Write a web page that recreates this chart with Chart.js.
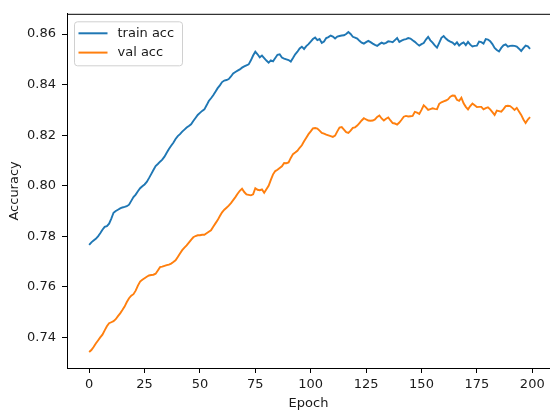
<!DOCTYPE html>
<html>
<head>
<meta charset="utf-8">
<script src="https://cdn.jsdelivr.net/npm/chart.js"></script>
<style>
  html, body { margin: 0; padding: 0; background: #fff; }
  canvas { display: block; }
</style>
</head>
<body>
<canvas id="acc_chart" width="550" height="414"></canvas>
<script>
// accuracy per epoch
const trainAcc = [
  0.7766, 0.7776, 0.7783, 0.7790, 0.7800, 0.7812, 0.7826, 0.7837, 0.7840, 0.7850,
  0.7870, 0.7893, 0.7900, 0.7905, 0.7910, 0.7914, 0.7916, 0.7919, 0.7925, 0.7940,
  0.7955, 0.7965, 0.7978, 0.7990, 0.7998, 0.8005, 0.8015, 0.8030, 0.8046, 0.8062,
  0.8078, 0.8086, 0.8095, 0.8103, 0.8115, 0.8130, 0.8145, 0.8158, 0.8170, 0.8185,
  0.8196, 0.8204, 0.8214, 0.8222, 0.8230, 0.8236, 0.8243, 0.8256, 0.8268, 0.8280,
  0.8288, 0.8296, 0.8302, 0.8318, 0.8335, 0.8346, 0.8358, 0.8372, 0.8386, 0.8397,
  0.8410, 0.8416, 0.8418, 0.8422, 0.8432, 0.8444, 0.8450, 0.8455, 0.8460, 0.8467,
  0.8472, 0.8476, 0.8480, 0.8496, 0.8515, 0.8530, 0.8520, 0.8508, 0.8515, 0.8505,
  0.8495, 0.8487, 0.8496, 0.8492, 0.8505, 0.8518, 0.8520, 0.8507, 0.8503, 0.8500,
  0.8497, 0.8491, 0.8505, 0.8520, 0.8530, 0.8543, 0.8550, 0.8541, 0.8552, 0.8560,
  0.8570, 0.8580, 0.8586, 0.8576, 0.8580, 0.8565, 0.8570, 0.8584, 0.8588, 0.8594,
  0.8590, 0.8582, 0.8590, 0.8592, 0.8594, 0.8595, 0.8600, 0.8608, 0.8600, 0.8589,
  0.8586, 0.8582, 0.8573, 0.8566, 0.8562, 0.8568, 0.8573, 0.8568, 0.8562, 0.8557,
  0.8553, 0.8560, 0.8566, 0.8562, 0.8565, 0.8571, 0.8570, 0.8568, 0.8576, 0.8584,
  0.8569, 0.8574, 0.8578, 0.8580, 0.8584, 0.8582, 0.8575, 0.8569, 0.8561, 0.8554,
  0.8560, 0.8564, 0.8578, 0.8589, 0.8575, 0.8566, 0.8555, 0.8546, 0.8565, 0.8585,
  0.8592, 0.8582, 0.8575, 0.8570, 0.8566, 0.8558, 0.8567, 0.8554, 0.8562, 0.8567,
  0.8556, 0.8569, 0.8558, 0.8551, 0.8553, 0.8554, 0.8570, 0.8568, 0.8562, 0.8580,
  0.8578, 0.8572, 0.8560, 0.8545, 0.8537, 0.8531, 0.8545, 0.8555, 0.8559, 0.8550,
  0.8553, 0.8554, 0.8553, 0.8550, 0.8542, 0.8533, 0.8544, 0.8554, 0.8551, 0.8541
];

const valAcc = [
  0.7342, 0.7350, 0.7362, 0.7376, 0.7388, 0.7400, 0.7411, 0.7428, 0.7444, 0.7456,
  0.7460, 0.7464, 0.7472, 0.7484, 0.7495, 0.7508, 0.7522, 0.7540, 0.7555, 0.7565,
  0.7571, 0.7585, 0.7605, 0.7621, 0.7628, 0.7634, 0.7640, 0.7645, 0.7647, 0.7648,
  0.7652, 0.7665, 0.7678, 0.7680, 0.7683, 0.7686, 0.7688, 0.7692, 0.7698, 0.7705,
  0.7718, 0.7732, 0.7745, 0.7755, 0.7764, 0.7775, 0.7786, 0.7796, 0.7801, 0.7804,
  0.7804, 0.7806, 0.7806, 0.7812, 0.7818, 0.7824, 0.7838, 0.7851, 0.7864, 0.7880,
  0.7895, 0.7905, 0.7913, 0.7921, 0.7931, 0.7943, 0.7955, 0.7968, 0.7980, 0.7988,
  0.7975, 0.7966, 0.7964, 0.7962, 0.7966, 0.7990, 0.7984, 0.7982, 0.7985, 0.7972,
  0.7986, 0.8000, 0.8023, 0.8045, 0.8058, 0.8063, 0.8070, 0.8077, 0.8090, 0.8089,
  0.8092, 0.8110, 0.8125, 0.8131, 0.8138, 0.8150, 0.8160, 0.8176, 0.8190, 0.8204,
  0.8215, 0.8227, 0.8228, 0.8226, 0.8218, 0.8209, 0.8206, 0.8202, 0.8199, 0.8196,
  0.8193, 0.8198, 0.8215, 0.8230, 0.8232, 0.8222, 0.8212, 0.8209, 0.8218, 0.8229,
  0.8231, 0.8238, 0.8248, 0.8258, 0.8267, 0.8262, 0.8258, 0.8257, 0.8258, 0.8262,
  0.8272, 0.8278, 0.8266, 0.8258, 0.8265, 0.8270, 0.8258, 0.8248, 0.8246, 0.8242,
  0.8250, 0.8261, 0.8273, 0.8276, 0.8274, 0.8275, 0.8276, 0.8292, 0.8289, 0.8284,
  0.8300, 0.8318, 0.8310, 0.8300, 0.8303, 0.8306, 0.8304, 0.8303, 0.8324, 0.8330,
  0.8334, 0.8337, 0.8342, 0.8352, 0.8357, 0.8356, 0.8340, 0.8336, 0.8348, 0.8326,
  0.8312, 0.8302, 0.8315, 0.8325, 0.8318, 0.8311, 0.8312, 0.8312, 0.8302, 0.8307,
  0.8310, 0.8302, 0.8291, 0.8280, 0.8297, 0.8295, 0.8293, 0.8303, 0.8315, 0.8316,
  0.8315, 0.8308, 0.8300, 0.8308, 0.8294, 0.8280, 0.8262, 0.8248, 0.8262, 0.8271
];

const seriesNames = ['train acc', 'val acc'];
const xTicks = [0, 25, 50, 75, 100, 125, 150, 175, 200];
const yTicks = [0.74, 0.76, 0.78, 0.80, 0.82, 0.84, 0.86];

const FONT = 'DejaVu Sans';
const TEXT = '#1a1a1a';

const toPoints = arr => arr.map((v, i) => ({ x: i, y: v }));

// matplotlib-like legend box in the upper left of the plot
const innerLegend = {
  id: 'innerLegend',
  afterDraw(chart) {
    const { ctx, chartArea } = chart;
    const x = chartArea.left + 7.5, y = chartArea.top + 8;
    const w = 108, h = 44, r = 3;
    ctx.save();
    ctx.beginPath();
    ctx.roundRect(x, y, w, h, r);
    ctx.fillStyle = 'rgba(255,255,255,0.8)';
    ctx.fill();
    ctx.strokeStyle = '#d0d0d0';
    ctx.lineWidth = 1;
    ctx.stroke();
    ctx.font = `13px "${FONT}"`;
    ctx.textBaseline = 'middle';
    chart.data.datasets.forEach((ds, i) => {
      const ly = y + 11.5 + i * 19.3;
      ctx.beginPath();
      ctx.moveTo(x + 4, ly);
      ctx.lineTo(x + 33, ly);
      ctx.strokeStyle = ds.borderColor;
      ctx.lineWidth = 2;
      ctx.stroke();
      ctx.fillStyle = TEXT;
      ctx.fillText(ds.label, x + 43, ly);
    });
    ctx.restore();
  }
};

// top spine (right one falls outside the picture)
const topSpine = {
  id: 'topSpine',
  afterDraw(chart) {
    const { ctx, chartArea } = chart;
    ctx.save();
    ctx.strokeStyle = '#000';
    ctx.lineWidth = 1;
    ctx.beginPath();
    ctx.moveTo(chartArea.left, chartArea.top + 0.5);
    ctx.lineTo(chartArea.right, chartArea.top + 0.5);
    ctx.stroke();
    ctx.restore();
  }
};

const tickGrid = {
  display: true,
  drawOnChartArea: false,
  drawTicks: true,
  tickLength: 5,
  tickWidth: 1,
  tickColor: '#000'
};

new Chart(document.getElementById('acc_chart').getContext('2d'), {
  type: 'line',
  data: {
    datasets: [
      {
        label: seriesNames[0],
        data: toPoints(trainAcc),
        borderColor: '#1f77b4',
        backgroundColor: '#1f77b4',
        borderWidth: 1.9,
        pointRadius: 0,
        tension: 0,
        fill: false
      },
      {
        label: seriesNames[1],
        data: toPoints(valAcc),
        borderColor: '#ff7f0e',
        backgroundColor: '#ff7f0e',
        borderWidth: 1.9,
        pointRadius: 0,
        tension: 0,
        fill: false
      }
    ]
  },
  options: {
    responsive: false,
    animation: false,
    layout: { padding: { top: 6, right: 0, left: 0, bottom: 0 } },
    scales: {
      x: {
        type: 'linear',
        min: -10,
        max: 208,
        afterBuildTicks: s => { s.ticks = xTicks.map(v => ({ value: v })); },
        afterFit: s => { s.height = 46; },
        grid: tickGrid,
        border: { display: true, color: '#000', width: 1 },
        ticks: {
          autoSkip: false,
          maxRotation: 0,
          padding: 4,
          color: TEXT,
          font: { family: FONT, size: 13 },
          callback: v => String(v)
        },
        title: {
          display: true,
          text: 'Epoch',
          color: TEXT,
          font: { family: FONT, size: 13 },
          padding: { top: 0, bottom: 3 }
        }
      },
      y: {
        min: 0.7279,
        max: 0.8680,
        afterBuildTicks: s => { s.ticks = yTicks.map(v => ({ value: v })); },
        afterFit: s => { s.width = 67; },
        grid: tickGrid,
        border: { display: true, color: '#000', width: 1 },
        ticks: {
          padding: 6,
          color: TEXT,
          font: { family: FONT, size: 13 },
          callback: v => v.toFixed(2)
        },
        title: {
          display: true,
          text: 'Accuracy',
          color: TEXT,
          font: { family: FONT, size: 13 },
          padding: { top: 7, bottom: 0 }
        }
      }
    },
    plugins: {
      legend: { display: false },
      tooltip: { enabled: false }
    }
  },
  plugins: [innerLegend, topSpine]
});
</script>
</body>
</html>
